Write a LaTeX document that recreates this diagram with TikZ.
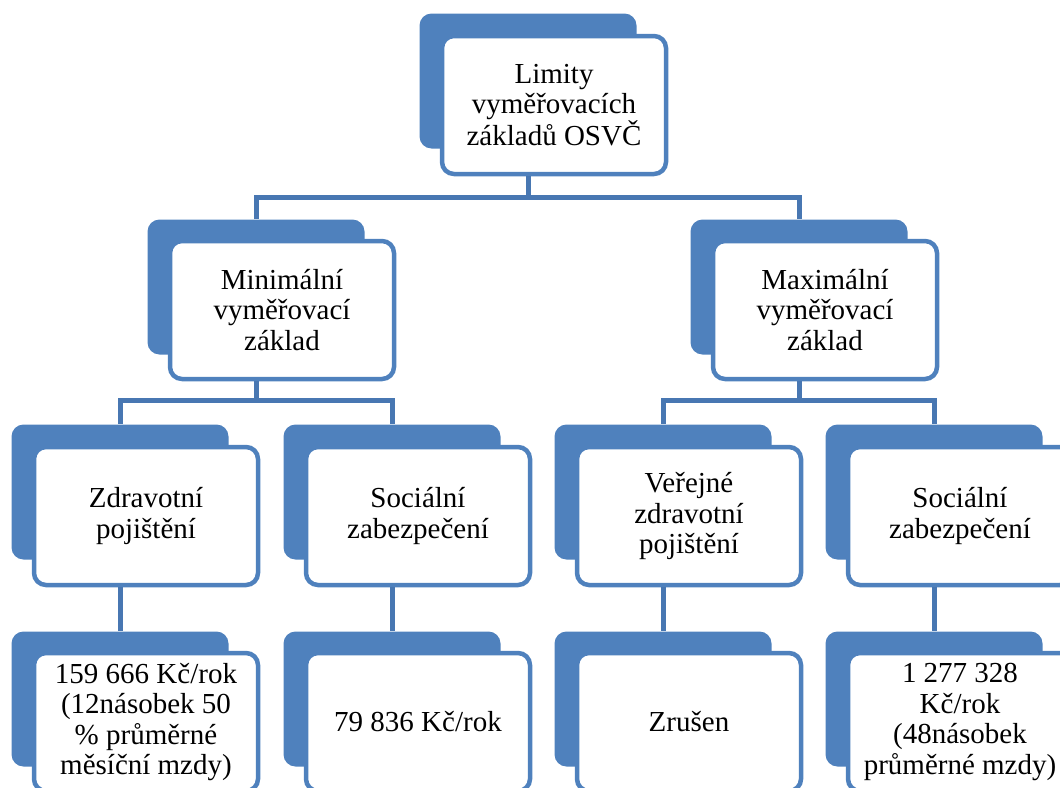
\documentclass[tikz,border=0pt]{standalone}
\usepackage{fontspec}
\setmainfont{Liberation Serif}
\definecolor{smblue}{HTML}{4F81BD}
\definecolor{smline}{HTML}{4877B2}

\begin{document}
\begin{tikzpicture}[x=1pt, y=-1pt,
  every node/.style={font=\fontsize{29}{30.5}\selectfont, align=center},
  backbox/.style={rectangle, rounded corners=12pt, fill=smblue, minimum width=217pt, minimum height=135pt, inner sep=0pt},
  frontbox/.style={rectangle, rounded corners=12pt, draw=smblue, line width=4.5pt, fill=white, minimum width=224pt, minimum height=138pt, inner sep=0pt},
  conn/.style={draw=smline, line width=5pt}]
\useasboundingbox (0,0) rectangle (1060,787);
\clip (0,0) rectangle (1060,787);

\coordinate (bus1) at (0,197);
\coordinate (bus2) at (0,400);

% top
\node[backbox] (limb) at (528,81) {};
\node[frontbox] (lim) at (554,105) {Limity\\vyměřovacích\\základů OSVČ};

% second row
\node[backbox] (minb) at (256,287) {};
\node[frontbox] (min) at (282,310) {Minimální\\vyměřovací\\základ};
\node[backbox] (maxb) at (799,287) {};
\node[frontbox] (max) at (825,310) {Maximální\\vyměřovací\\základ};

% third row
\node[backbox] (zdrb) at (120,492) {};
\node[frontbox] (zdr) at (146,516) {Zdravotní\\pojištění};
\node[backbox] (soczb) at (392,492) {};
\node[frontbox] (socz) at (418,516) {Sociální\\zabezpečení};
\node[backbox] (verb) at (663,492) {};
\node[frontbox] (ver) at (689,516) {Veřejné\\zdravotní\\pojištění};
\node[backbox] (socmb) at (934,492) {};
\node[frontbox] (socm) at (960,516) {Sociální\\zabezpečení};

% values
\node[backbox] (valab) at (120,699) {};
\node[frontbox] (vala) at (146,722) {159 666 Kč/rok\\(12násobek 50\\\% průměrné\\měsíční mzdy)};
\node[backbox] (valbb) at (392,699) {};
\node[frontbox] (valb) at (418,722) {79 836 Kč/rok};
\node[backbox] (valcb) at (663,699) {};
\node[frontbox] (valc) at (689,722) {Zrušen};
\node[backbox] (valdb) at (934,699) {};
\node[frontbox] (vald) at (960,722) {1 277 328\\Kč/rok\\(48násobek\\průměrné mzdy)};

\draw[conn] (limb |- lim.south) -- (limb |- bus1) -| (minb.north);
\draw[conn] (limb |- bus1) -| (maxb.north);
\draw[conn] (minb |- min.south) -- (minb |- bus2) -| (zdrb.north);
\draw[conn] (minb |- bus2) -| (soczb.north);
\draw[conn] (maxb |- max.south) -- (maxb |- bus2) -| (verb.north);
\draw[conn] (maxb |- bus2) -| (socmb.north);
\draw[conn] (zdrb |- zdr.south) -- (valab.north);
\draw[conn] (soczb |- socz.south) -- (valbb.north);
\draw[conn] (verb |- ver.south) -- (valcb.north);
\draw[conn] (socmb |- socm.south) -- (valdb.north);
\end{tikzpicture}
\end{document}
